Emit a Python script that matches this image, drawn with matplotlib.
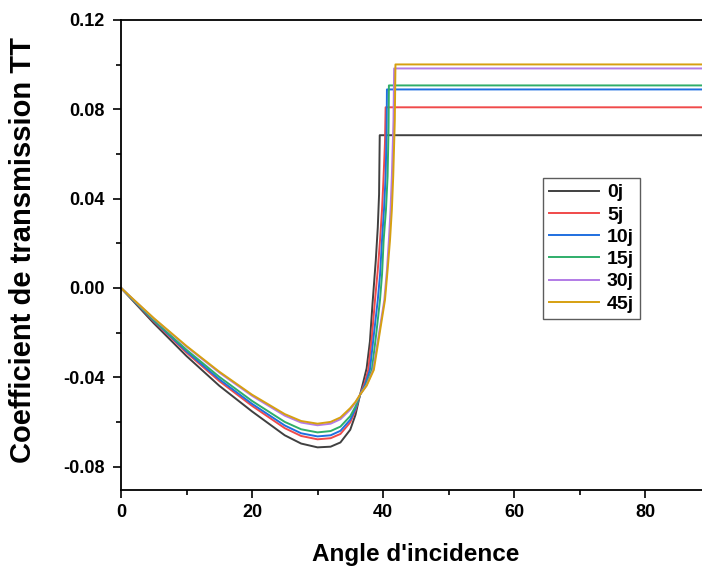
import matplotlib
matplotlib.use("Agg")
import matplotlib.pyplot as plt
from matplotlib.ticker import MultipleLocator, FormatStrFormatter

plt.rcParams['font.family'] = ['Liberation Sans', 'DejaVu Sans']
plt.rcParams['font.weight'] = 'bold'
plt.rcParams['axes.unicode_minus'] = False

labels = ["0j", "5j", "10j", "15j", "30j", "45j"]
colors = ["#404040", "#f04a4a", "#1f6fe0", "#2fae6a", "#b27be6", "#d6a010"]

# common descending part (angle grid)
x_desc = [0, 5, 10, 15, 20, 25, 27.5, 30, 32, 33.5, 35, 35.8, 36.5]
y_desc = {
    "0j":  [0, -0.0158, -0.0305, -0.0438, -0.0553, -0.0660, -0.0697, -0.0714, -0.0711, -0.0692, -0.0635, -0.0568, -0.0478],
    "5j":  [0, -0.0150, -0.0290, -0.0417, -0.0528, -0.0628, -0.0663, -0.0678, -0.0673, -0.0654, -0.0602, -0.0548, -0.0478],
    "10j": [0, -0.0147, -0.0284, -0.0409, -0.0519, -0.0616, -0.0651, -0.0665, -0.0660, -0.0640, -0.0590, -0.0541, -0.0478],
    "15j": [0, -0.0144, -0.0277, -0.0398, -0.0506, -0.0600, -0.0633, -0.0647, -0.0641, -0.0621, -0.0574, -0.0531, -0.0478],
    "30j": [0, -0.0137, -0.0263, -0.0379, -0.0483, -0.0572, -0.0603, -0.0615, -0.0608, -0.0588, -0.0545, -0.0514, -0.0478],
    "45j": [0, -0.0135, -0.0260, -0.0375, -0.0478, -0.0565, -0.0596, -0.0608, -0.0600, -0.0580, -0.0538, -0.0510, -0.0478],
}

# rising part near the critical angle
x_rise = {
    "0j":  [37.0, 37.5, 38.0, 38.4, 38.9, 39.2, 39.4, 39.5],
    "5j":  [37.2, 37.75, 38.3, 38.78, 39.2, 39.55, 39.85, 40.06, 40.3, 40.4],
    "10j": [37.3, 38.0, 38.6, 39.2, 39.55, 39.85, 40.15, 40.4, 40.55, 40.6],
    "15j": [37.4, 38.3, 38.95, 39.54, 39.85, 40.1, 40.45, 40.7, 40.85, 40.9],
    "30j": [37.5, 38.5, 39.35, 40.2, 40.6, 40.9, 41.15, 41.35, 41.6, 41.7],
    "45j": [37.5, 38.6, 39.45, 40.3, 40.7, 41.07, 41.35, 41.56, 41.8, 41.9],
}
y_rise = {
    "0j":  [-0.042, -0.036, -0.024, -0.007, 0.0125, 0.027, 0.042, 0.0684],
    "5j":  [-0.0425, -0.0367, -0.022, -0.0054, 0.008, 0.0215, 0.035, 0.048, 0.065, 0.0809],
    "10j": [-0.0430, -0.0367, -0.021, -0.0054, 0.006, 0.0215, 0.035, 0.050, 0.070, 0.0889],
    "15j": [-0.0435, -0.0367, -0.021, -0.0054, 0.006, 0.0215, 0.035, 0.050, 0.072, 0.0907],
    "30j": [-0.0435, -0.0367, -0.021, -0.0054, 0.008, 0.0215, 0.035, 0.050, 0.075, 0.0983],
    "45j": [-0.0438, -0.0367, -0.021, -0.0054, 0.008, 0.0215, 0.035, 0.050, 0.075, 0.1001],
}
x_end = 90

fig = plt.figure(figsize=(7.02, 5.70), dpi=100)
ax = fig.add_axes([121/702, 1-490/570, 1-121/702, (490-20)/570])

for lab, col in zip(labels, colors):
    xs = x_desc + x_rise[lab] + [x_end]
    ys = y_desc[lab] + y_rise[lab] + [y_rise[lab][-1]]
    ax.plot(xs, ys, color=col, lw=1.4, label=lab, solid_joinstyle='round')

ax.set_xlim(0, 88.7)
ax.set_ylim(-0.0905, 0.12)
ax.xaxis.set_major_locator(MultipleLocator(20))
ax.xaxis.set_minor_locator(MultipleLocator(10))
ax.yaxis.set_major_locator(MultipleLocator(0.04))
ax.yaxis.set_minor_locator(MultipleLocator(0.02))
ax.yaxis.set_major_formatter(FormatStrFormatter('%.2f'))
ax.tick_params(which='major', direction='out', length=6, width=1.2, labelsize=13, pad=4)
ax.tick_params(axis='y', which='major', pad=6)
ax.tick_params(which='minor', direction='out', length=3.5, width=1.2)
ax.tick_params(top=False, right=False)
for lbl in ax.get_xticklabels() + ax.get_yticklabels():
    lbl.set_fontweight('bold')
for s in ['left', 'bottom', 'top']:
    ax.spines[s].set_linewidth(1.3)
ax.spines['right'].set_visible(False)

ax.set_xlabel("Angle d'incidence", fontsize=17.5, fontweight='bold')
ax.set_ylabel("Coefficient de transmission TT", fontsize=21, fontweight='bold')
ax.xaxis.set_label_coords(0.508, -0.112)
ax.yaxis.set_label_coords(-0.145, 0.51)

leg = ax.legend(loc='upper left', bbox_to_anchor=(0.726, 0.664), frameon=True, fancybox=False,
                edgecolor='#333333', fontsize=14, handlelength=2.6, handletextpad=0.4,
                labelspacing=0.24, borderpad=0.3, borderaxespad=0)
leg.get_frame().set_linewidth(1.0)
for t in leg.get_texts():
    t.set_fontweight('bold')

fig.savefig("out.png", dpi=100)
